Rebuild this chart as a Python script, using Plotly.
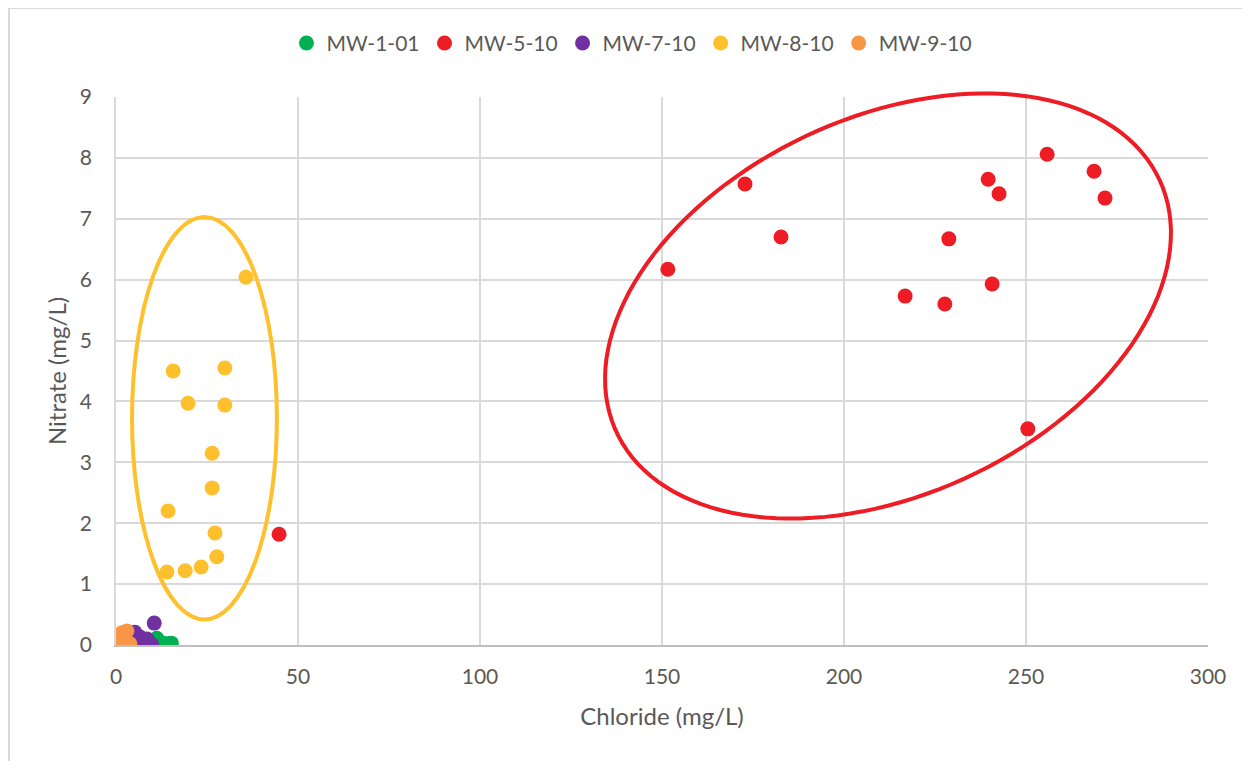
import numpy as np
import plotly.graph_objects as go

# Dados
mw1_x = [11.2, 14.3, 13.0, 15.2, 12.0]
mw1_y = [0.11, 0.02, 0.03, 0.03, 0.05]

mw5_x = [151.6, 172.8, 182.7, 216.8, 227.7, 228.8, 239.6, 242.6, 240.7, 255.8, 268.7, 271.7, 250.5, 44.8]
mw5_y = [6.17, 7.57, 6.70, 5.73, 5.60, 6.67, 7.65, 7.41, 5.93, 8.06, 7.78, 7.34, 3.55, 1.82]

mw7_x = [10.5, 5.2, 6.6, 9.8, 7.0, 4.5, 8.0, 6.0, 8.5]
mw7_y = [0.36, 0.21, 0.13, 0.01, 0.01, 0.20, 0.03, 0.05, 0.10]

mw8_x = [35.7, 15.7, 29.9, 19.8, 29.9, 26.4, 26.4, 14.3, 27.2, 27.7, 23.4, 19.0, 14.0]
mw8_y = [6.04, 4.50, 4.55, 3.97, 3.94, 3.15, 2.58, 2.20, 1.84, 1.45, 1.28, 1.22, 1.20]

mw9_x = [1.6, 1.9, 3.0, 2.5, 3.8, 2.2, 1.5]
mw9_y = [0.20, 0.03, 0.23, 0.10, 0.02, 0.15, 0.10]

series = [
    ("MW-1-01", mw1_x, mw1_y, "#00B050"),
    ("MW-5-10", mw5_x, mw5_y, "#EE1C25"),
    ("MW-7-10", mw7_x, mw7_y, "#7030A0"),
    ("MW-8-10", mw8_x, mw8_y, "#FFC02E"),
    ("MW-9-10", mw9_x, mw9_y, "#F79646"),
]

fig = go.Figure()
for nome, xs, ys, cor in series:
    fig.add_trace(go.Scatter(x=xs, y=ys, mode="markers", name=nome,
                             marker=dict(color=cor, size=15, line=dict(width=0))))

# Elipse vermelha inclinada (em pixels, convertida para coordenadas "paper" p/ não cortar)
W, H = 1092, 548
t = np.linspace(0, 2 * np.pi, 140)
a, b, th = 299.4, 188.7, np.radians(24.9)
cx, cy = 772, 339  # centro em pixels a partir do canto inferior esquerdo da área
ex = (cx + a * np.cos(t) * np.cos(th) - b * np.sin(t) * np.sin(th)) / W
ey = (cy + a * np.cos(t) * np.sin(th) + b * np.sin(t) * np.cos(th)) / H
path = "M " + " L ".join(f"{x:.4f},{y:.4f}" for x, y in zip(ex, ey)) + " Z"
fig.add_shape(type="path", path=path, xref="paper", yref="paper",
              line=dict(color="#EE1C25", width=4))

# Elipse amarela
fig.add_shape(type="circle", xref="x", yref="y", x0=4.4, x1=44.2, y0=0.42, y1=7.03,
              line=dict(color="#FFC02E", width=4))

# Moldura do gráfico
fig.add_shape(type="rect", xref="paper", yref="paper",
              x0=(-107) / W, x1=(1262 - 116) / W,
              y0=(645 - 775) / H, y1=(637) / H,
              line=dict(color="#D9D9D9", width=2), layer="below")

fig.update_layout(
    width=1250, height=761,
    margin=dict(l=108, r=50, t=89, b=124),
    paper_bgcolor="white", plot_bgcolor="white",
    font=dict(family="Lato, Open Sans, sans-serif", color="#595959", size=21),
    showlegend=True,
    legend=dict(orientation="h", x=0.4725, xanchor="center", y=1.098, yanchor="middle",
                font=dict(size=21), itemwidth=30, tracegroupgap=0),
    xaxis=dict(range=[0, 300], dtick=50, showgrid=True, gridcolor="#D9D9D9", gridwidth=1.5,
               zeroline=False, showline=True, linecolor="#BFBFBF", linewidth=1.5,
               ticks="outside", ticklen=12, tickcolor="rgba(0,0,0,0)", tickfont=dict(size=21),
               title=dict(text="Chloride (mg/L)", font=dict(size=24), standoff=21)),
    yaxis=dict(range=[0, 9], dtick=1, showgrid=True, gridcolor="#D9D9D9", gridwidth=1.5,
               zeroline=False, showline=True, linecolor="#D9D9D9", linewidth=1.5,
               ticks="outside", ticklen=18, tickcolor="rgba(0,0,0,0)", tickfont=dict(size=21),
               title=dict(text="Nitrate (mg/L)", font=dict(size=24), standoff=6)),
)

fig.write_html("out.html")
